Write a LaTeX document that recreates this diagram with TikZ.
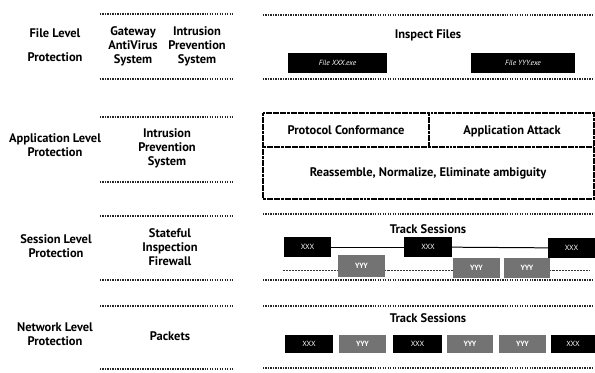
\documentclass[tikz,border=0pt]{standalone}
\usepackage{fontspec}
\setmainfont{PT Sans}
\begin{document}
\begin{tikzpicture}[x=1bp,y=-1bp,
  every node/.style={inner sep=0pt,outer sep=0pt},
  lbl/.style={font=\bfseries\fontsize{12.5}{14}\selectfont,align=center},
  dots/.style={draw=black!85,line width=2pt,dash pattern=on 1.4pt off 1.1pt},
  framebox/.style={draw=black,line width=1.1pt,dash pattern=on 3pt off 0.6pt},
  blackbox/.style={fill=black,text=white,font=\fontsize{7.5}{8}\selectfont,minimum height=20bp},
  graybox/.style={fill=black!55,text=white,font=\bfseries\fontsize{7.5}{8}\selectfont,minimum height=20bp},
  link/.style={draw=black,line width=1pt},
  thinlink/.style={draw=black!80,line width=0.6pt,dash pattern=on 1pt off 0.5pt}]
\useasboundingbox (0,0) rectangle (595,372);
% ---------- dotted separators ----------
\foreach \y [count=\i] in {14,79,117,182,216,280,306,369}{
  \coordinate (ml\i) at (100,\y); \coordinate (mr\i) at (233,\y);
  \draw[dots] (ml\i) -- (mr\i);}
\foreach \y [count=\i] in {15,79,214,280,306,368}{
  \coordinate (rl\i) at (263,\y); \coordinate (rr\i) at (594,\y);
  \draw[dots] (rl\i) -- (rr\i);}
% ---------- left labels ----------
\node[lbl] (fl) at (55,45) {File Level\\[10pt]Protection};
\node[lbl] (al) at (55,145) {Application Level\\Protection};
\node[lbl] (sl) at (56,246) {Session Level\\Protection};
\node[lbl] (nl) at (55,334) {Network Level\\Protection};
% ---------- middle labels ----------
\node[lbl] (gav) at (133,46) {Gateway\\AntiVirus\\System};
\node[lbl] (ips1) at (197,46) {Intrusion\\Prevention\\System};
\node[lbl] (ips2) at (167,148) {Intrusion\\Prevention\\System};
\node[lbl] (sif) at (170,247) {Stateful\\Inspection\\Firewall};
\node[lbl] (pk) at (170,336) {Packets};
% ---------- file level ----------
\node[lbl] (insp) at (428,35) {Inspect Files};
\node[blackbox,minimum width=99bp] (fx) at (337.5,63) {\itshape File XXX.exe};
\node[blackbox,minimum width=104bp] (fy) at (523,63) {\itshape File YYY.exe};
% ---------- application level ----------
\coordinate (a1) at (263,113); \coordinate (a2) at (594,199);
\draw[framebox] (a1) rectangle (a2);
\coordinate (am1) at (263,147); \coordinate (am2) at (594,147);
\draw[framebox] (am1) -- (am2);
\coordinate (av1) at (429,113); \coordinate (av2) at (429,147);
\draw[framebox] (av1) -- (av2);
\node[lbl] (pc) at (346,130) {Protocol Conformance};
\node[lbl] (aa) at (512,131) {Application Attack};
\node[lbl] (ra) at (428,173) {Reassemble, Normalize, Eliminate ambiguity};
% ---------- session level ----------
\node[lbl] (ts1) at (428,229) {Track Sessions};
\node[blackbox,minimum width=47bp] (s1) at (307.5,247) {XXX};
\node[blackbox,minimum width=48bp] (s2) at (428,247) {XXX};
\node[blackbox,minimum width=47bp] (s3) at (571.5,248) {XXX};
\node[graybox,minimum width=47bp,minimum height=22bp] (g1) at (361.5,266) {YYY};
\node[graybox,minimum width=47bp] (g2) at (476.5,268) {YYY};
\node[graybox,minimum width=46bp] (g3) at (527,268) {YYY};
\draw[link] (s1) -- (s2);
\draw[link] (s2) -- (s3);
\coordinate (tl) at (283,270); \coordinate (tr) at (590,270);
\draw[thinlink] (tl) -- (g1.west|-tl);
\draw[thinlink] (g1.east|-tl) -- (g2.west|-tl);
\draw[thinlink] (g3.east|-tl) -- (tr);
% ---------- network level ----------
\node[lbl] (ts2) at (428,318) {Track Sessions};
\node[blackbox,minimum width=48bp,minimum height=18bp] (n1) at (309,344) {XXX};
\node[graybox,minimum width=47bp,minimum height=18bp] (n2) at (362.5,344) {YYY};
\node[blackbox,minimum width=49bp,minimum height=18bp] (n3) at (417.5,344) {XXX};
\node[graybox,minimum width=46bp,minimum height=18bp] (n4) at (470,344) {YYY};
\node[graybox,minimum width=47bp,minimum height=18bp] (n5) at (522.5,344) {YYY};
\node[blackbox,minimum width=44bp,minimum height=18bp] (n6) at (573,344) {XXX};
\end{tikzpicture}
\end{document}
